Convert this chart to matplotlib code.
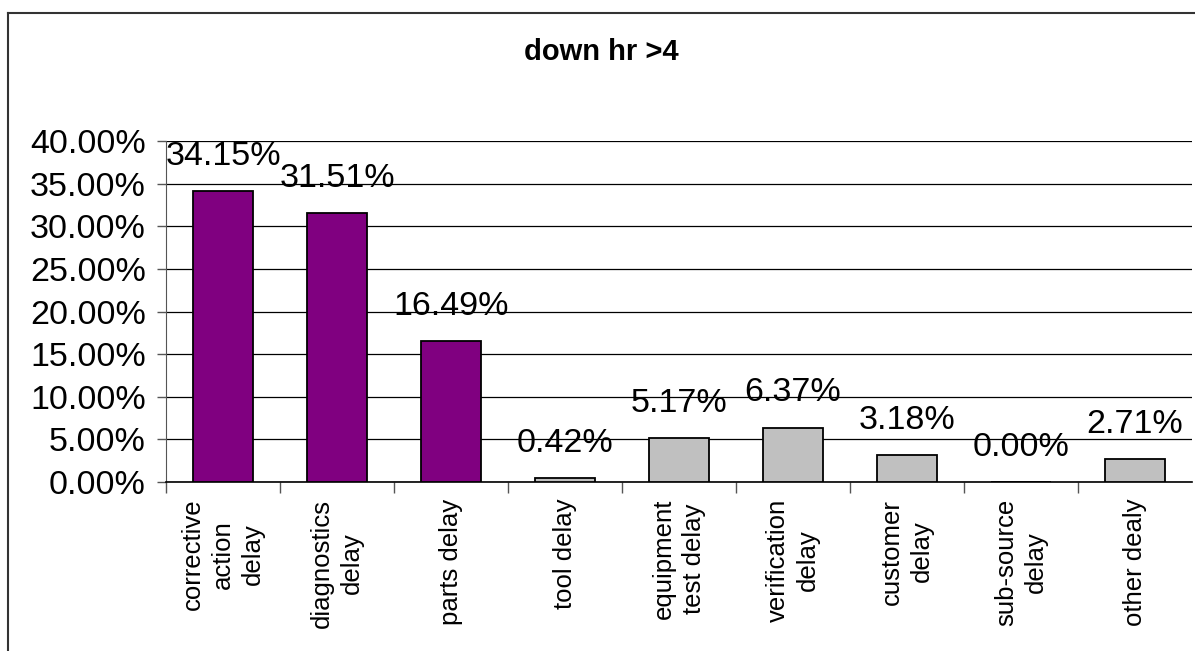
import matplotlib
matplotlib.use("Agg")
import matplotlib.pyplot as plt
from matplotlib.lines import Line2D
from matplotlib.ticker import FixedLocator, PercentFormatter
import numpy as np

plt.rcParams['font.family'] = ['Liberation Sans', 'DejaVu Sans']

categories = ["corrective\naction\ndelay", "diagnostics\ndelay", "parts delay", "tool delay",
              "equipment\ntest delay", "verification\ndelay", "customer\ndelay",
              "sub-source\ndelay", "other dealy"]
values = [34.15, 31.51, 16.49, 0.42, 5.17, 6.37, 3.18, 0.00, 2.71]
colors = ["#800080", "#800080", "#800080", "#C0C0C0", "#C0C0C0", "#C0C0C0",
          "#C0C0C0", "#C0C0C0", "#C0C0C0"]
yticks = [0, 5, 10, 15, 20, 25, 30, 35, 40]
title = "down hr >4"

fig = plt.figure(figsize=(11.95, 6.51), dpi=100)
ax = fig.add_axes([166/1195, 1-482/651, (1192-166)/1195, (482-141)/651])

x = np.arange(len(categories))
ax.bar(x, values, width=0.52, color=colors, edgecolor="black", linewidth=1.3, zorder=3)

for xi, v in zip(x, values):
    ax.annotate(f"{v:.2f}%", (xi, v), xytext=(0, 25), textcoords="offset points",
                ha="center", va="center", fontsize=24.5)

ax.set_xlim(-0.5, len(categories) - 0.5)
ax.set_ylim(0, 40)
ax.set_yticks(yticks)
ax.yaxis.set_major_formatter(PercentFormatter(decimals=2))
ax.tick_params(axis="y", labelsize=24.5, length=6.5, width=1, pad=8, color="#555555")
ax.yaxis.grid(True, color="black", linewidth=0.9, zorder=0)
ax.set_axisbelow(True)

ax.set_xticks(x)
ax.set_xticklabels(categories, rotation=90, fontsize=18.5, ha="center", va="top",
                   multialignment="center", linespacing=1.3)
ax.tick_params(axis="x", length=0, pad=12)
ax.xaxis.set_minor_locator(FixedLocator(np.arange(len(categories)) - 0.5))
ax.tick_params(axis="x", which="minor", length=8, width=1, color="#555555")

for s in ["top", "right"]:
    ax.spines[s].set_visible(False)
ax.spines["left"].set_color("#555555")
ax.spines["bottom"].set_color("black")
ax.spines["bottom"].set_linewidth(1.2)

fig.text(601/1195, 1-52/651, title, ha="center", va="center", fontsize=21, fontweight="bold")

# chart area border
fig.add_artist(Line2D([8/1195, 1.0], [1-13/651, 1-13/651], transform=fig.transFigure,
                      color="#333333", linewidth=1.5))
fig.add_artist(Line2D([8/1195, 8/1195], [0.0, 1-13/651], transform=fig.transFigure,
                      color="#333333", linewidth=1.5))

fig.savefig("out.png", dpi=100)
